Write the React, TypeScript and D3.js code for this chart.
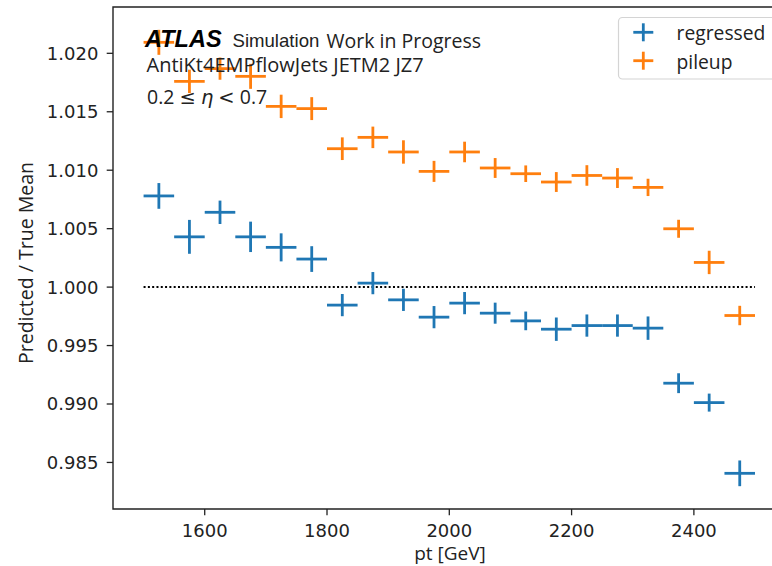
import * as d3 from 'd3';

// pt bin centres (GeV), bins are 50 GeV wide
const PT = [1525, 1575, 1625, 1675, 1725, 1775, 1825, 1875, 1925, 1975,
  2025, 2075, 2125, 2175, 2225, 2275, 2325, 2375, 2425, 2475];
const PT_HALF_WIDTH = 25;

const REGRESSED = [1.0078, 1.0043, 1.0064, 1.0043, 1.0034, 1.0024, 0.99846, 1.00034, 0.99891, 0.99743,
  0.99863, 0.99777, 0.99711, 0.9964, 0.99671, 0.99671, 0.99649, 0.99178, 0.99012, 0.98407];
const REGRESSED_ERR = [0.0011, 0.00145, 0.001, 0.0013, 0.0012, 0.0011, 0.00095, 0.00095, 0.00095, 0.00095,
  0.00095, 0.0009, 0.0008, 0.001, 0.00095, 0.00095, 0.001, 0.00085, 0.00077, 0.0011];

const PILEUP = [1.02094, 1.0176, 1.01869, 1.01803, 1.01546, 1.01527, 1.01184, 1.01281, 1.01156, 1.0099,
  1.01156, 1.01019, 1.0097, 1.00899, 1.00955, 1.00933, 1.00853, 1.00499, 1.00211, 0.99757];
const PILEUP_ERR = [0.00107, 0.001, 0.00095, 0.00107, 0.001, 0.00098, 0.00097, 0.00092, 0.001, 0.0009,
  0.00088, 0.00085, 0.00071, 0.00085, 0.00088, 0.00085, 0.00074, 0.00077, 0.001, 0.00083];

const SERIES = [
  { name: 'regressed', values: REGRESSED, errs: REGRESSED_ERR, color: '#1f77b4' },
  { name: 'pileup', values: PILEUP, errs: PILEUP_ERR, color: '#ff7f0e' },
];

const X_TICKS = [1600, 1800, 2000, 2200, 2400];
const Y_TICKS = [0.985, 0.99, 0.995, 1.0, 1.005, 1.01, 1.015, 1.02];

const WIDTH = 772;
const HEIGHT = 566;
// axes box (right spine falls just outside the picture)
const AX = { left: 113, top: 7, right: 785.6, bottom: 509 };

const TICK_FONT = '"DejaVu Sans", sans-serif';
const LABEL_FONT = '"Open Sans", sans-serif';
const ATLAS_FONT = '"Liberation Sans", Arial, sans-serif';

const App = () => {
  // matplotlib-like 5% margins around the data
  const xLo = d3.min(PT)! - PT_HALF_WIDTH;
  const xHi = d3.max(PT)! + PT_HALF_WIDTH;
  const xPad = (xHi - xLo) * 0.05;
  const xScale = d3.scaleLinear().domain([xLo - xPad, xHi + xPad]).range([AX.left, AX.right]);

  const lows = SERIES.flatMap((s) => s.values.map((v, i) => v - s.errs[i]));
  const highs = SERIES.flatMap((s) => s.values.map((v, i) => v + s.errs[i]));
  const yLo = d3.min(lows)!;
  const yHi = d3.max(highs)!;
  const yPad = (yHi - yLo) * 0.05;
  const yScale = d3.scaleLinear().domain([yLo - yPad, yHi + yPad]).range([AX.bottom, AX.top]);

  const tickLen = 6.3;
  const lw = 2.8;

  const allBars = SERIES.map((s) => (
    <g key={s.name} stroke={s.color} strokeWidth={lw}>
      {PT.map((pt, i) => {
        const cx = xScale(pt);
        const cy = yScale(s.values[i]);
        return (
          <g key={i}>
            <line x1={xScale(pt - PT_HALF_WIDTH)} x2={xScale(pt + PT_HALF_WIDTH)} y1={cy} y2={cy} />
            <line x1={cx} x2={cx} y1={yScale(s.values[i] - s.errs[i])} y2={yScale(s.values[i] + s.errs[i])} />
          </g>
        );
      })}
    </g>
  ));

  const yAxis = Y_TICKS.map((t) => (
    <g key={t} transform={`translate(0,${yScale(t)})`}>
      <line x1={AX.left - tickLen} x2={AX.left} stroke="#222" strokeWidth={1.3} />
      <text x={AX.left - tickLen - 8.3} dy="0.36em" textAnchor="end" fontFamily={TICK_FONT} fontSize={18} fill="#222">
        {d3.format('.3f')(t)}
      </text>
    </g>
  ));

  const xAxis = X_TICKS.map((t) => (
    <g key={t} transform={`translate(${xScale(t)},0)`}>
      <line y1={AX.bottom} y2={AX.bottom + tickLen} stroke="#222" strokeWidth={1.3} />
      <text y={537} textAnchor="middle" fontFamily={TICK_FONT} fontSize={18} fill="#222">
        {t}
      </text>
    </g>
  ));

  return (
    <svg width={WIDTH} height={HEIGHT} style={{ position: 'absolute', left: 0, top: 0, background: '#fff' }}>
      <rect x={0} y={0} width={WIDTH} height={HEIGHT} fill="#fff" />

      {/* reference line at 1 */}
      <line x1={xScale(1500)} x2={xScale(2500)} y1={yScale(1)} y2={yScale(1)}
        stroke="#000" strokeWidth={2} strokeDasharray="2,2.3" />

      {allBars}

      {/* spines */}
      <path d={`M${AX.right},${AX.top}H${AX.left}V${AX.bottom}H${AX.right}`} fill="none" stroke="#222" strokeWidth={1.4} />

      {yAxis}
      {xAxis}

      <text transform={`translate(33,263) rotate(-90)`} textAnchor="middle" fontFamily={LABEL_FONT} fontSize={19.5} fill="#222">
        Predicted / True Mean
      </text>
      <text x={450} y={559.5} textAnchor="middle" fontFamily={LABEL_FONT} fontSize={19} fill="#222">
        pt [GeV]
      </text>

      {/* ATLAS label */}
      <text x={145} y={47} fontFamily={ATLAS_FONT} fontSize={23.5} fontWeight="bold" fontStyle="italic" fill="#000">
        ATLAS
      </text>
      <text x={232.5} y={47} fontFamily={ATLAS_FONT} fontSize={18.6} fill="#222">
        Simulation
      </text>
      <text x={326.5} y={47.5} fontFamily={LABEL_FONT} fontSize={19.5} fill="#222">
        Work in Progress
      </text>
      <text x={146.5} y={72} fontFamily={LABEL_FONT} fontSize={20} fill="#222">
        AntiKt4EMPflowJets JETM2 JZ7
      </text>
      <text x={147} y={103.5} fontFamily={LABEL_FONT} fontSize={19.5} fill="#222">
        0.2 <tspan fontFamily={TICK_FONT}>≤</tspan> <tspan fontFamily={TICK_FONT} fontStyle="italic">η</tspan> <tspan fontFamily={TICK_FONT}>{'<'}</tspan> 0.7
      </text>

      {/* legend */}
      <rect x={618.5} y={17.5} width={170} height={61.5} rx={4} fill="#fff" fillOpacity={0.8} stroke="#d4d4d4" strokeWidth={1.2} />
      {SERIES.map((s, i) => {
        const cy = 32.3 + i * 28.4;
        return (
          <g key={s.name}>
            <g stroke={s.color} strokeWidth={lw}>
              <line x1={633.3} x2={653.3} y1={cy} y2={cy} />
              <line x1={643.3} x2={643.3} y1={cy - 9} y2={cy + 9} />
            </g>
            <text x={676.5} y={cy + 5} dy="0.15em" fontFamily={LABEL_FONT} fontSize={19.3} fill="#222">
              {s.name}
            </text>
          </g>
        );
      })}
    </svg>
  );
};

export default App;
